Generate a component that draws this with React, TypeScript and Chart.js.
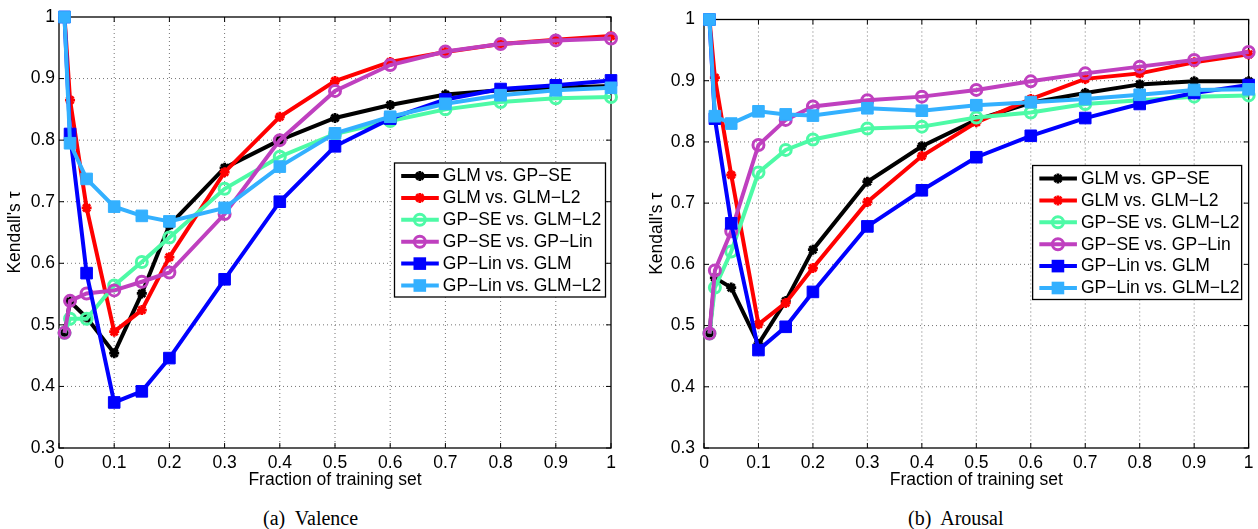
import React, { useEffect, useRef } from 'react';
import { Chart, registerables } from 'chart.js';

Chart.register(...registerables);
Chart.defaults.font.family = "'Liberation Sans', Arial, sans-serif";
Chart.defaults.color = '#000';

// ---------- data ----------
const xValues = [0.01, 0.02, 0.05, 0.1, 0.15, 0.2, 0.3, 0.4, 0.5, 0.6, 0.7, 0.8, 0.9, 1.0];
const xTicks = [0, 0.1, 0.2, 0.3, 0.4, 0.5, 0.6, 0.7, 0.8, 0.9, 1];
const yTicks = [0.3, 0.4, 0.5, 0.6, 0.7, 0.8, 0.9, 1];

const seriesLabels = [
  'GLM vs. GP\u2212SE',
  'GLM vs. GLM\u2212L2',
  'GP\u2212SE vs. GLM\u2212L2',
  'GP\u2212SE vs. GP\u2212Lin',
  'GP\u2212Lin vs. GLM',
  'GP\u2212Lin vs. GLM\u2212L2',
];

// (a) Valence
const glmVsGpSeV = [0.487, 0.538, 0.512, 0.454, 0.551, 0.662, 0.755, 0.800, 0.836, 0.857, 0.874, 0.881, 0.885, 0.888];
const glmVsGlmL2V = [1.0, 0.865, 0.690, 0.489, 0.524, 0.610, 0.748, 0.838, 0.896, 0.927, 0.943, 0.956, 0.963, 0.969];
const gpSeVsGlmL2V = [0.487, 0.510, 0.510, 0.564, 0.602, 0.642, 0.721, 0.773, 0.810, 0.831, 0.850, 0.862, 0.868, 0.870];
const gpSeVsGpLinV = [0.487, 0.539, 0.551, 0.556, 0.570, 0.585, 0.680, 0.800, 0.880, 0.922, 0.944, 0.956, 0.962, 0.965];
const gpLinVsGlmV = [1.0, 0.810, 0.584, 0.374, 0.392, 0.446, 0.574, 0.700, 0.790, 0.835, 0.866, 0.883, 0.889, 0.897];
const gpLinVsGlmL2V = [1.0, 0.795, 0.737, 0.692, 0.677, 0.668, 0.690, 0.757, 0.811, 0.838, 0.859, 0.873, 0.881, 0.885];

// (b) Arousal
const glmVsGpSeA = [0.487, 0.578, 0.562, 0.470, 0.540, 0.624, 0.735, 0.793, 0.836, 0.864, 0.880, 0.894, 0.899, 0.899];
const glmVsGlmL2A = [1.0, 0.905, 0.746, 0.502, 0.537, 0.594, 0.702, 0.777, 0.832, 0.870, 0.903, 0.912, 0.930, 0.943];
const gpSeVsGlmL2A = [0.487, 0.562, 0.621, 0.750, 0.787, 0.804, 0.822, 0.825, 0.840, 0.848, 0.862, 0.868, 0.874, 0.876];
const gpSeVsGpLinA = [0.487, 0.590, 0.654, 0.795, 0.836, 0.858, 0.868, 0.874, 0.885, 0.899, 0.912, 0.923, 0.934, 0.947];
const gpLinVsGlmA = [1.0, 0.838, 0.667, 0.460, 0.498, 0.555, 0.662, 0.721, 0.775, 0.810, 0.839, 0.862, 0.880, 0.893];
const gpLinVsGlmL2A = [1.0, 0.842, 0.830, 0.850, 0.845, 0.843, 0.855, 0.851, 0.860, 0.865, 0.870, 0.877, 0.885, 0.886];

const valenceSeries = [glmVsGpSeV, glmVsGlmL2V, gpSeVsGlmL2V, gpSeVsGpLinV, gpLinVsGlmV, gpLinVsGlmL2V];
const arousalSeries = [glmVsGpSeA, glmVsGlmL2A, gpSeVsGlmL2A, gpSeVsGpLinA, gpLinVsGlmA, gpLinVsGlmL2A];

// ---------- styles ----------
const seriesColors = ['#000000', '#ff0000', '#4dfaa6', '#bf40bf', '#0000ff', '#33b0ff'];
const seriesMarkers = ['star', 'star', 'circle', 'circle', 'rect', 'rect'];

const FONT_SIZE = 17.5;

const fmt = (v: any) => String(Math.round(Number(v) * 10) / 10);

function markerProps(kind: string, color: string) {
  if (kind === 'star') {
    return { pointStyle: 'star', pointRadius: 5, pointBorderWidth: 2.8, pointBorderColor: color, pointBackgroundColor: color };
  }
  if (kind === 'circle') {
    return { pointStyle: 'circle', pointRadius: 5.5, pointBorderWidth: 3, pointBorderColor: color, pointBackgroundColor: 'rgba(0,0,0,0)' };
  }
  return { pointStyle: 'rect', pointRadius: 8.2, pointBorderWidth: 1, pointBorderColor: color, pointBackgroundColor: color };
}

function drawMarker(ctx: CanvasRenderingContext2D, kind: string, color: string, x: number, y: number) {
  ctx.save();
  ctx.setLineDash([]);
  if (kind === 'star') {
    ctx.strokeStyle = color;
    ctx.lineWidth = 2.8;
    ctx.beginPath();
    for (let k = 0; k < 4; k++) {
      const ang = (k * Math.PI) / 4;
      const dx = Math.cos(ang) * 5;
      const dy = Math.sin(ang) * 5;
      ctx.moveTo(x - dx, y - dy);
      ctx.lineTo(x + dx, y + dy);
    }
    ctx.stroke();
  } else if (kind === 'circle') {
    ctx.strokeStyle = color;
    ctx.lineWidth = 3;
    ctx.beginPath();
    ctx.arc(x, y, 5.5, 0, Math.PI * 2);
    ctx.stroke();
  } else {
    ctx.fillStyle = color;
    ctx.fillRect(x - 6.3, y - 6.3, 12.6, 12.6);
  }
  ctx.restore();
}

const framePlugin = {
  id: 'matlabFrame',
  beforeDatasetsDraw(chart: any) {
    const { ctx, chartArea: a, scales } = chart;
    ctx.save();
    // dotted grid
    ctx.strokeStyle = 'rgba(0,0,0,0.55)';
    ctx.lineWidth = 1;
    ctx.setLineDash([1, 3]);
    ctx.beginPath();
    for (const v of xTicks) {
      const px = scales.x.getPixelForValue(v);
      if (px <= a.left + 1 || px >= a.right - 1) continue;
      ctx.moveTo(px, a.top);
      ctx.lineTo(px, a.bottom);
    }
    for (const v of yTicks) {
      const py = scales.y.getPixelForValue(v);
      if (py <= a.top + 1 || py >= a.bottom - 1) continue;
      ctx.moveTo(a.left, py);
      ctx.lineTo(a.right, py);
    }
    ctx.stroke();
    // frame
    ctx.setLineDash([]);
    ctx.strokeStyle = '#000';
    ctx.lineWidth = 1.3;
    ctx.strokeRect(a.left, a.top, a.right - a.left, a.bottom - a.top);
    // inward ticks
    ctx.lineWidth = 1;
    ctx.beginPath();
    for (const v of xTicks) {
      const px = scales.x.getPixelForValue(v);
      ctx.moveTo(px, a.bottom);
      ctx.lineTo(px, a.bottom - 5);
      ctx.moveTo(px, a.top);
      ctx.lineTo(px, a.top + 5);
    }
    for (const v of yTicks) {
      const py = scales.y.getPixelForValue(v);
      ctx.moveTo(a.left, py);
      ctx.lineTo(a.left + 5, py);
      ctx.moveTo(a.right, py);
      ctx.lineTo(a.right - 5, py);
    }
    ctx.stroke();
    ctx.restore();
  },
  afterDatasetsDraw(chart: any, _args: any, opts: any) {
    const { ctx, chartArea: a } = chart;
    const w = opts.width;
    const h = opts.height;
    const left = a.right - opts.rightOffset - w;
    const top = a.top + opts.topOffset;
    ctx.save();
    ctx.fillStyle = '#fff';
    ctx.fillRect(left, top, w, h);
    ctx.strokeStyle = '#000';
    ctx.lineWidth = 1.3;
    ctx.strokeRect(left, top, w, h);
    ctx.font = `${FONT_SIZE}px 'Liberation Sans', Arial, sans-serif`;
    ctx.textBaseline = 'middle';
    ctx.textAlign = 'left';
    seriesLabels.forEach((label, i) => {
      const y = top + 13 + i * 21.9;
      const color = seriesColors[i];
      ctx.strokeStyle = color;
      ctx.lineWidth = 4;
      ctx.beginPath();
      ctx.moveTo(left + 6.7, y);
      ctx.lineTo(left + 44.3, y);
      ctx.stroke();
      drawMarker(ctx, seriesMarkers[i], color, left + 25.3, y);
      ctx.fillStyle = '#000';
      ctx.fillText(label, left + 48.3, y + 0.5);
    });
    ctx.restore();
  },
};

type PanelProps = {
  series: number[][];
  left: number;
  width: number;
  yWidth: number;
  yPad: number;
  padRight: number;
  legendRight: number;
  legendWidth: number;
};

function Panel({ series, left, width, yWidth, yPad, padRight, legendRight, legendWidth }: PanelProps) {
  const ref = useRef<HTMLCanvasElement>(null);
  useEffect(() => {
    const datasets = series.map((vals, i) => ({
      label: seriesLabels[i],
      data: xValues.map((x, k) => ({ x, y: vals[k] })),
      borderColor: seriesColors[i],
      backgroundColor: seriesColors[i],
      borderWidth: 4,
      tension: 0,
      clip: false as any,
      order: 5 - i,
      ...markerProps(seriesMarkers[i], seriesColors[i]),
    }));
    const chart = new Chart(ref.current as HTMLCanvasElement, {
      type: 'line',
      data: { datasets } as any,
      plugins: [framePlugin as any],
      options: {
        animation: false,
        responsive: true,
        maintainAspectRatio: false,
        events: [],
        layout: { padding: { top: 17, right: padRight, left: 0, bottom: 0 } },
        plugins: {
          legend: { display: false },
          tooltip: { enabled: false },
          matlabFrame: { rightOffset: legendRight, topOffset: 146, width: legendWidth, height: 134 },
        } as any,
        scales: {
          x: {
            type: 'linear',
            min: 0,
            max: 1,
            afterBuildTicks: (s: any) => {
              s.ticks = xTicks.map((v) => ({ value: v }));
            },
            afterFit: (s: any) => {
              s.height = 52;
            },
            grid: { display: false, drawTicks: false, tickLength: 0 },
            border: { display: false },
            ticks: {
              padding: 4.5,
              maxRotation: 0,
              autoSkip: false,
              callback: fmt,
              color: '#000',
              font: { size: FONT_SIZE },
            },
            title: {
              display: true,
              text: 'Fraction of training set',
              color: '#000',
              font: { size: FONT_SIZE },
              padding: { top: 0, bottom: 9.5 },
            },
          },
          y: {
            type: 'linear',
            min: 0.3,
            max: 1,
            afterBuildTicks: (s: any) => {
              s.ticks = yTicks.map((v) => ({ value: v }));
            },
            afterFit: (s: any) => {
              s.width = yWidth;
            },
            grid: { display: false, drawTicks: false, tickLength: 0 },
            border: { display: false },
            ticks: {
              padding: yPad,
              autoSkip: false,
              callback: fmt,
              color: '#000',
              font: { size: FONT_SIZE },
            },
            title: {
              display: true,
              text: "Kendall's \u03c4",
              color: '#000',
              font: { size: FONT_SIZE },
              padding: { top: 5, bottom: 0 },
            },
          },
        } as any,
      },
    });
    return () => chart.destroy();
  }, []);
  return (
    <div style={{ position: 'absolute', left, top: 0, width, height: 500 }}>
      <canvas ref={ref} />
    </div>
  );
}

const captionStyle: React.CSSProperties = {
  position: 'absolute',
  top: 506,
  fontFamily: "'Liberation Serif', 'Times New Roman', serif",
  fontSize: 20,
  lineHeight: '24px',
  whiteSpace: 'pre',
  color: '#000',
};

export default function App() {
  return (
    <div style={{ position: 'fixed', left: 0, top: 0, width: 1258, height: 529, background: '#fff', overflow: 'hidden' }}>
      <Panel series={valenceSeries} left={0} width={629} yWidth={59} yPad={4} padRight={18} legendRight={5.5} legendWidth={211} />
      <Panel series={arousalSeries} left={642} width={616} yWidth={62} yPad={9} padRight={4} legendRight={7} legendWidth={209} />
      <div style={{ ...captionStyle, left: 263 }}>(a)  Valence</div>
      <div style={{ ...captionStyle, left: 908 }}>(b)  Arousal</div>
    </div>
  );
}
